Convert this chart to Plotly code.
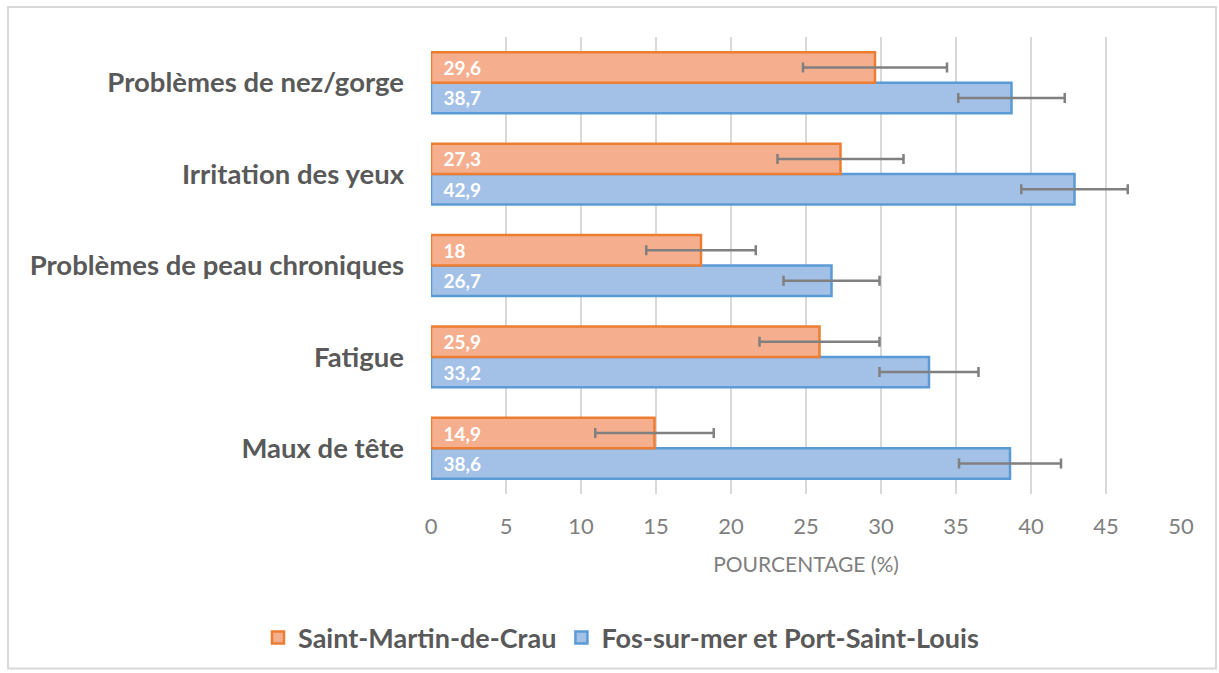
import plotly.graph_objects as go

categories = ["Maux de tête", "Fatigue", "Problèmes de peau chroniques", "Irritation des yeux", "Problèmes de nez/gorge"]
smc_values = [14.9, 25.9, 18.0, 27.3, 29.6]
smc_errors = [3.95, 4.0, 3.65, 4.2, 4.8]
fos_values = [38.6, 33.2, 26.7, 42.9, 38.7]
fos_errors = [3.4, 3.3, 3.2, 3.55, 3.55]
x_ticks = [0, 5, 10, 15, 20, 25, 30, 35, 40, 45, 50]

def fmt(v):
    s = ("%.1f" % v).rstrip("0").rstrip(".")
    return "\u2002" + s.replace(".", ",")

FONT = "Lato"
GREY = "#595959"

W, H = 1219, 673
L, T = 431, 37
PW, PH = 750, 458
R = W - L - PW
B = H - T - PH

def px(xp):
    return (xp - L) / PW

def py(yp):
    return (T + PH - yp) / PH

fig = go.Figure()
fig.add_trace(go.Bar(
    y=categories, x=fos_values, orientation="h",
    name="Fos-sur-mer et Port-Saint-Louis",
    marker=dict(color="#A3C0E7", line=dict(color="#5B9BD5", width=2.5)),
    text=[fmt(v) for v in fos_values], textposition="inside", insidetextanchor="start",
    textfont=dict(color="white", size=19, family=FONT, weight="bold"),
    error_x=dict(type="data", array=fos_errors, color="#808080", thickness=2.5, width=5),
    legendrank=2,
))
fig.add_trace(go.Bar(
    y=categories, x=smc_values, orientation="h",
    name="Saint-Martin-de-Crau",
    marker=dict(color="#F5AF8E", line=dict(color="#ED7D31", width=2.5)),
    text=[fmt(v) for v in smc_values], textposition="inside", insidetextanchor="start",
    textfont=dict(color="white", size=19, family=FONT, weight="bold"),
    error_x=dict(type="data", array=smc_errors, color="#808080", thickness=2.5, width=5),
    legendrank=1,
))

fig.update_layout(
    width=W, height=H,
    barmode="group", bargap=0.334, bargroupgap=0,
    plot_bgcolor="white", paper_bgcolor="white",
    margin=dict(l=L, r=R, t=T, b=B),
    font=dict(family=FONT, color=GREY),
    xaxis=dict(
        range=[0, 50], tickvals=x_ticks, ticktext=[str(t) for t in x_ticks],
        showgrid=True, gridcolor="#D9D9D9", gridwidth=2, zeroline=False,
        showline=False, ticks="", ticklabelstandoff=17,
        tickfont=dict(size=22, color="#7F7F7F", family=FONT),
        title=dict(text="POURCENTAGE (%)", font=dict(size=21, color="#7F7F7F", family=FONT), standoff=19),
    ),
    yaxis=dict(
        showgrid=False, zeroline=False, showline=False, ticks="",
        ticklabelstandoff=26,
        tickfont=dict(size=27.5, color=GREY, family=FONT, weight="bold"),
    ),
    legend=dict(
        orientation="h", x=px(621), xanchor="center", y=py(638), yanchor="middle",
        font=dict(size=27, color=GREY, family=FONT, weight="bold"),
        itemwidth=30, tracegroupgap=0,
    ),
    shapes=[dict(
        type="rect", xref="paper", yref="paper",
        x0=px(8), x1=px(1216), y0=py(670), y1=py(7),
        line=dict(color="#D9D9D9", width=2), fillcolor="rgba(0,0,0,0)", layer="below",
    )],
)

fig.write_html(
    "out.html",
    config={"displayModeBar": False},
    post_script="document.body.style.margin='0';document.body.style.overflow='hidden';",
)
